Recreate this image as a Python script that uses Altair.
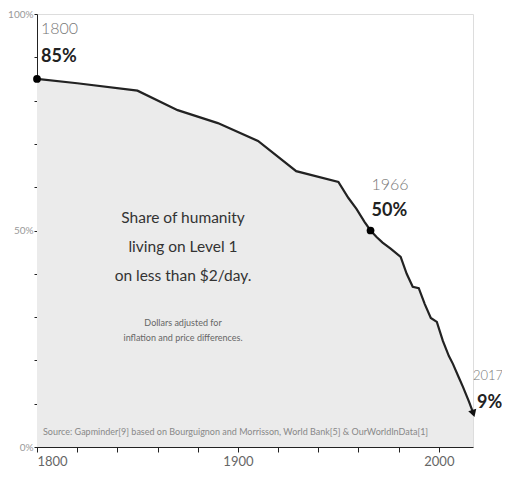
import altair as alt
import pandas as pd

years = [1800, 1820, 1850, 1870, 1890, 1910, 1929, 1950, 1955, 1959, 1963, 1966,
         1969, 1972, 1976, 1981, 1984, 1987, 1990, 1993, 1996, 1999, 2002, 2005,
         2007, 2010, 2012, 2015, 2017]
share = [85, 84, 82.3, 77.8, 74.8, 70.7, 63.7, 61.2, 57.5, 55, 52, 50,
         48.5, 47.2, 45.8, 43.9, 40, 37, 36.7, 33, 29.8, 28.9, 24.5, 21,
         19.2, 16, 13.9, 10.5, 8]

hl_years = [1800, 1966]
hl_share = [85, 50]

ann_year = [1800, 1966, 2017]
ann_value = [85, 50, 8]
ann_year_label = ["1800", "1966", "2017"]
ann_pct_label = ["85%", "50%", "9%"]
ann_dx_year = [4, 1, 0]
ann_dx_pct = [4, 1, 4]
ann_dy_year = [-50, -46, -36]
ann_dy_pct = [-22, -20, -9]
ann_year_size = [16, 16, 13]

main_lines = ["Share of humanity", "living on Level 1", "on less than $2/day."]
sub_lines = ["Dollars adjusted for", "inflation and price differences."]
source = "Source: Gapminder[9] based on Bourguignon and Morrisson, World Bank[5] & OurWorldInData[1]"

FONT = "Lato, sans-serif"

df = pd.DataFrame({"year": years, "share": share})
hl = pd.DataFrame({"year": hl_years, "share": hl_share})
ann = pd.DataFrame({"year": ann_year, "share": ann_value,
                    "ylab": ann_year_label, "plab": ann_pct_label})

W, H = 436, 433
xs = alt.Scale(domain=[1800, 2017], nice=False, zero=False)
ys = alt.Scale(domain=[0, 100], nice=False)

xenc = alt.X("year:Q", scale=xs, axis=alt.Axis(
    values=list(range(1800, 2020, 10)), format="d",
    labelExpr="datum.value % 50 == 0 ? datum.label : ''",
    grid=False, domainColor="#222", tickColor="#222", tickSize=5,
    labelColor="#666", labelFont=FONT, labelFontSize=13, labelPadding=3,
    title=None))
yenc = alt.Y("share:Q", scale=ys, axis=alt.Axis(
    values=list(range(0, 101, 10)),
    labelExpr="datum.value % 50 == 0 ? datum.value + '%' : ''",
    grid=False, domainColor="#222", tickColor="#222", tickSize=3,
    labelColor="#999", labelFont=FONT, labelFontSize=10, labelPadding=1,
    title=None))

base = alt.Chart(df)
area = base.mark_area(color="#ebebeb").encode(x=xenc, y=yenc)
line = base.mark_line(color="#222", strokeWidth=2.2).encode(x="year:Q", y="share:Q")

last = alt.Chart(df.tail(1)).mark_point(
    shape="triangle", angle=162, filled=True, color="#111", size=70, opacity=1
).encode(x="year:Q", y="share:Q")

dots = alt.Chart(hl).mark_circle(color="#000", size=60, opacity=1).encode(
    x="year:Q", y="share:Q")

layers = [area, line, last, dots]
for i in range(len(ann_year)):
    row = ann.iloc[[i]]
    layers.append(alt.Chart(row).mark_text(
        align="left", baseline="middle", font=FONT, fontSize=ann_year_size[i],
        fontWeight=300, color="#777", dx=ann_dx_year[i], dy=ann_dy_year[i]
    ).encode(x="year:Q", y="share:Q", text="ylab:N"))
    layers.append(alt.Chart(row).mark_text(
        align="left", baseline="middle", font=FONT, fontSize=18, fontWeight="bold",
        color="#222", dx=ann_dx_pct[i], dy=ann_dy_pct[i]
    ).encode(x="year:Q", y="share:Q", text="plab:N"))

main_df = pd.DataFrame({"t": main_lines, "i": list(range(len(main_lines)))})
sub_df = pd.DataFrame({"t": sub_lines, "i": list(range(len(sub_lines)))})
src_df = pd.DataFrame({"t": [source]})

main_txt = alt.Chart(main_df).mark_text(
    align="center", baseline="middle", font=FONT, fontSize=15.5, color="#333"
).transform_calculate(py="204 + datum.i * 29").encode(
    x=alt.value(146), y=alt.Y("py:Q", scale=None), text="t:N")
sub_txt = alt.Chart(sub_df).mark_text(
    align="center", baseline="middle", font=FONT, fontSize=9, color="#666"
).transform_calculate(py="309 + datum.i * 15").encode(
    x=alt.value(146), y=alt.Y("py:Q", scale=None), text="t:N")
src_txt = alt.Chart(src_df).mark_text(
    align="left", baseline="middle", font=FONT, fontSize=9, color="#888"
).encode(x=alt.value(6), y=alt.value(418), text="t:N")

layers += [main_txt, sub_txt, src_txt]

chart = alt.layer(*layers).properties(
    width=W, height=H,
    autosize=alt.AutoSizeParams(type="none"),
    padding={"left": 29, "top": 6, "right": 29, "bottom": 22},
    background="white",
).configure_view(stroke="#dddddd", strokeWidth=1)

chart.save("out.html", embed_options={"renderer": "svg", "actions": False})
